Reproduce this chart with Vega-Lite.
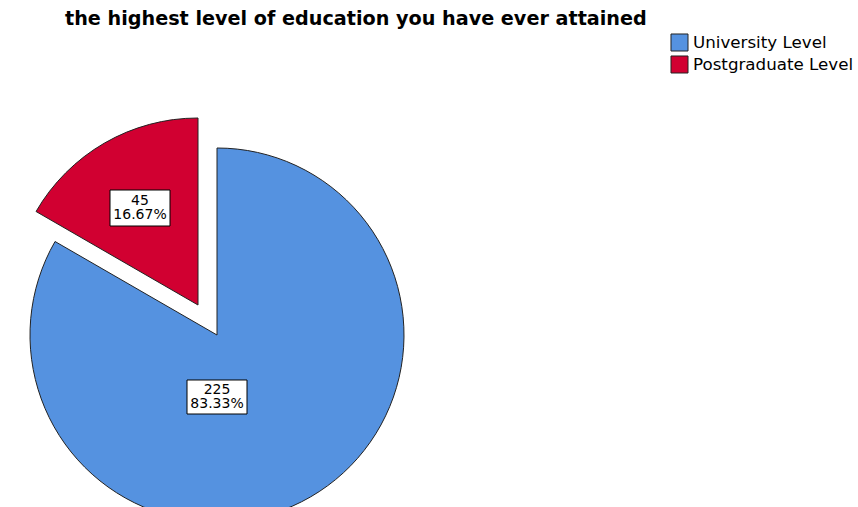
{
  "$schema": "https://vega.github.io/schema/vega-lite/v6.json",
  "width": 858,
  "height": 475,
  "autosize": "none",
  "padding": {"top": 32, "left": 0, "right": 0, "bottom": 0},
  "background": "white",
  "title": {
    "text": "the highest level of education you have ever attained",
    "anchor": "start",
    "dx": 65,
    "dy": 21,
    "font": "DejaVu Sans",
    "fontSize": 19.2,
    "fontWeight": "bold",
    "color": "#000000",
    "baseline": "alphabetic",
    "offset": 9
  },
  "data": {
    "values": [
      {"level": "University Level", "count": 225, "order": 1},
      {"level": "Postgraduate Level", "count": 45, "order": 2}
    ]
  },
  "transform": [
    {"joinaggregate": [{"op": "sum", "field": "count", "as": "total"}]},
    {"calculate": "datum.count / datum.total", "as": "pct"},
    {"stack": "count", "groupby": [], "sort": [{"field": "order", "order": "ascending"}], "offset": "normalize", "as": ["v0", "v1"]},
    {"calculate": "[format(datum.count, 'd'), format(datum.pct, '.2%')]", "as": "label"}
  ],
  "layer": [
    {
      "transform": [{"filter": "datum.level == 'University Level'"}],
      "mark": {"type": "arc", "x": 217, "y": 303, "outerRadius": 187, "stroke": "#222222", "strokeWidth": 1},
      "encoding": {
        "theta": {"field": "v0", "type": "quantitative", "scale": {"domain": [0, 1], "range": [0, 6.283185307]}},
        "theta2": {"field": "v1"},
        "color": {
          "field": "level",
          "type": "nominal",
          "scale": {"domain": ["University Level", "Postgraduate Level"], "range": ["#5592E0", "#D10031"]},
          "legend": {
            "orient": "none",
            "legendX": 670,
            "legendY": 1,
            "title": null,
            "padding": 0,
            "symbolType": "square",
            "symbolSize": 290,
            "symbolStrokeColor": "#222222",
            "symbolStrokeWidth": 1,
            "symbolOpacity": 1,
            "labelFont": "DejaVu Sans",
            "labelFontSize": 16.7,
            "labelColor": "#000000",
            "labelOffset": 4,
            "labelLimit": 300,
            "rowPadding": -1
          }
        }
      }
    },
    {
      "transform": [{"filter": "datum.level == 'Postgraduate Level'"}],
      "mark": {"type": "arc", "x": 198, "y": 273, "outerRadius": 187, "stroke": "#222222", "strokeWidth": 1},
      "encoding": {
        "theta": {"field": "v0", "type": "quantitative"},
        "theta2": {"field": "v1"},
        "color": {"field": "level", "type": "nominal"}
      }
    },
    {
      "transform": [{"filter": "datum.level == 'University Level'"}],
      "mark": {"type": "point", "x": 217, "y": 365, "shape": "M-1,-0.567L1,-0.567L1,0.567L-1,0.567Z", "size": 3600, "filled": true, "fill": "#ffffff", "stroke": "#000000", "strokeWidth": 1, "opacity": 1},
      "encoding": {}
    },
    {
      "transform": [{"filter": "datum.level == 'Postgraduate Level'"}],
      "mark": {"type": "point", "x": 140, "y": 176, "shape": "M-1,-0.6L1,-0.6L1,0.6L-1,0.6Z", "size": 3600, "filled": true, "fill": "#ffffff", "stroke": "#000000", "strokeWidth": 1, "opacity": 1},
      "encoding": {}
    },
    {
      "transform": [{"filter": "datum.level == 'University Level'"}],
      "mark": {"type": "text", "x": 217, "y": 365, "dy": -7, "font": "DejaVu Sans", "fontSize": 14, "color": "#000000", "align": "center", "baseline": "middle", "lineHeight": 14},
      "encoding": {"text": {"field": "label"}}
    },
    {
      "transform": [{"filter": "datum.level == 'Postgraduate Level'"}],
      "mark": {"type": "text", "x": 140, "y": 176, "dy": -7, "font": "DejaVu Sans", "fontSize": 14, "color": "#000000", "align": "center", "baseline": "middle", "lineHeight": 14},
      "encoding": {"text": {"field": "label"}}
    }
  ]
}
